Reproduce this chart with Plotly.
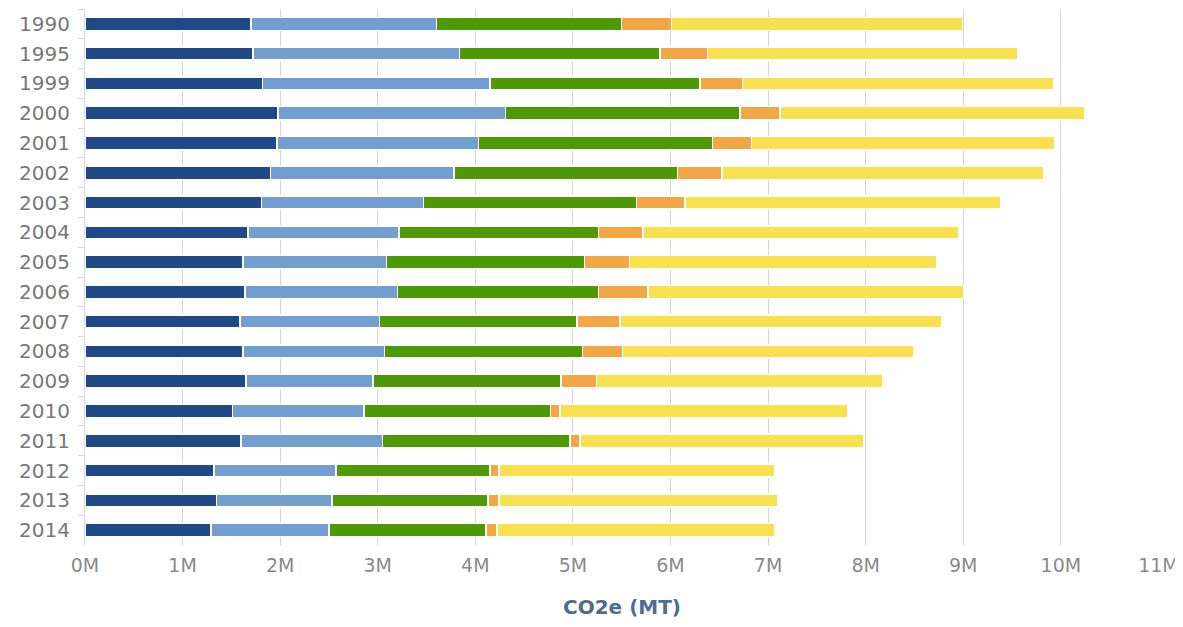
import plotly.graph_objects as go

years = ["1990", "1995", "1999", "2000", "2001", "2002", "2003", "2004", "2005",
         "2006", "2007", "2008", "2009", "2010", "2011", "2012", "2013", "2014"]

# cumulative boundaries (millions MT CO2e)
cum_dark = [1.70, 1.72, 1.82, 1.98, 1.97, 1.90, 1.81, 1.67, 1.62, 1.64, 1.59, 1.62, 1.65, 1.51, 1.60, 1.32, 1.35, 1.29]
cum_light = [3.60, 3.84, 4.15, 4.31, 4.03, 3.78, 3.47, 3.22, 3.09, 3.20, 3.02, 3.07, 2.95, 2.86, 3.05, 2.57, 2.53, 2.50]
cum_green = [5.50, 5.89, 6.30, 6.71, 6.43, 6.07, 5.65, 5.26, 5.12, 5.26, 5.04, 5.10, 4.88, 4.77, 4.97, 4.15, 4.13, 4.11]
cum_orange = [6.01, 6.38, 6.74, 7.12, 6.83, 6.53, 6.15, 5.72, 5.58, 5.77, 5.48, 5.51, 5.24, 4.87, 5.07, 4.24, 4.24, 4.22]
cum_yellow = [8.99, 9.56, 9.93, 10.25, 9.94, 9.82, 9.38, 8.95, 8.73, 9.01, 8.78, 8.49, 8.18, 7.82, 7.98, 7.07, 7.10, 7.07]

x_ticks = list(range(12))
x_labels = [f"{i}M" for i in x_ticks]

def diff(a, b):
    return [round((x - y) * 1e6) for x, y in zip(a, b)]

series = [
    ("Series 1", [round(v * 1e6) for v in cum_dark], "#204a87"),
    ("Series 2", diff(cum_light, cum_dark), "#729fcf"),
    ("Series 3", diff(cum_green, cum_light), "#4e9a06"),
    ("Series 4", diff(cum_orange, cum_green), "#f3a645"),
    ("Series 5", diff(cum_yellow, cum_orange), "#f8e04e"),
]

fig = go.Figure()
for name, vals, color in series:
    fig.add_trace(go.Bar(
        y=years, x=vals, name=name, orientation="h",
        marker=dict(color=color, line=dict(color="white", width=1.5)),
    ))

fig.update_layout(
    barmode="stack",
    bargap=0.56,
    width=1175, height=611,
    margin=dict(l=77, r=24, t=1, b=74, autoexpand=False),
    plot_bgcolor="white", paper_bgcolor="white",
    showlegend=False,
    font=dict(family="DejaVu Sans", color="#777777"),
)
fig.update_xaxes(
    range=[0, 11.006e6], tickvals=[i * 1e6 for i in x_ticks],
    ticktext=x_labels, automargin=False, ticklabeloverflow="allow",
    showgrid=True, gridcolor="#d4d4d4", gridwidth=1,
    zeroline=False, showline=False,
    ticklabelstandoff=7,
    tickfont=dict(size=19, color="#8a8a8a"),
    title=dict(text="CO2e (MT)", font=dict(size=20, color="#4d6d8f", family="DejaVu Sans", weight="bold"), standoff=36),
)
fig.update_yaxes(
    autorange="reversed", type="category", automargin=False,
    showline=True, linecolor="#d8d8d8", linewidth=1,
    ticks="outside", tickson="boundaries", ticklen=6, tickcolor="#d8d8d8",
    ticklabelstandoff=10,
    tickfont=dict(size=20, color="#777777"),
    showgrid=False, zeroline=False,
)
fig.write_html("out.html")
